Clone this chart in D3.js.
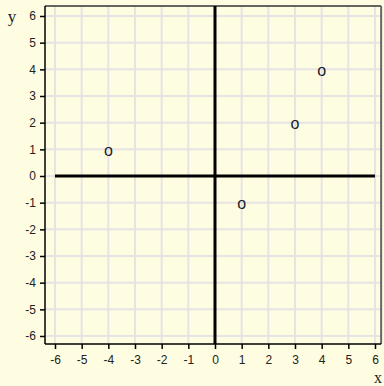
<!DOCTYPE html>
<html><head><meta charset="utf-8">
<script src="https://cdn.jsdelivr.net/npm/d3@7"></script>
<style>html,body{margin:0;padding:0;background:#fffde1;}svg{display:block;}</style>
</head><body>
<script>
const xTicks = [-6,-5,-4,-3,-2,-1,0,1,2,3,4,5,6];
const yTicks = [-6,-5,-4,-3,-2,-1,0,1,2,3,4,5,6];
const px = [-4, 1, 3, 4];
const py = [1, -1, 2, 4];
const marker = "o";

(function () {
const W = 384, H = 386;
const svg = d3.select("body").append("svg").attr("width", W).attr("height", H);
svg.append("rect").attr("width", W).attr("height", H).attr("fill", "#fffde1");

const x = d3.scaleLinear().domain([-6, 6]).range([55, 375]);
const y = d3.scaleLinear().domain([-6, 6]).range([336, 16]);
const pL = x(-6.375), pR = x(6.23), pT = y(6.375), pB = y(-6.3);
const fmt = d => String(d);

// grid
svg.append("g").selectAll("line").data(xTicks).join("line")
  .attr("x1", d => x(d)).attr("x2", d => x(d)).attr("y1", pT).attr("y2", pB)
  .attr("stroke", "#e4e4e4").attr("stroke-width", 2);
svg.append("g").selectAll("line").data(yTicks).join("line")
  .attr("y1", d => y(d)).attr("y2", d => y(d)).attr("x1", pL).attr("x2", pR)
  .attr("stroke", "#e4e4e4").attr("stroke-width", 2);

// box top/right
svg.append("line").attr("x1", pL).attr("x2", pR).attr("y1", pT).attr("y2", pT)
  .attr("stroke", "#333").attr("stroke-width", 1.5);
svg.append("line").attr("x1", pR).attr("x2", pR).attr("y1", pT).attr("y2", pB)
  .attr("stroke", "#666").attr("stroke-width", 2);

// axes
const ax = svg.append("g").attr("transform", `translate(0,${pB})`)
  .call(d3.axisBottom(x).tickValues(xTicks).tickSize(5).tickPadding(6).tickFormat(fmt));
ax.select(".domain").attr("d", `M${pL},0H${pR}`).attr("stroke", "#000").attr("stroke-width", 1.5);
const ay = svg.append("g").attr("transform", `translate(${pL},0)`)
  .call(d3.axisLeft(y).tickValues(yTicks).tickSize(5).tickPadding(4).tickFormat(fmt));
ay.select(".domain").attr("d", `M0,${pT}V${pB}`).attr("stroke", "#000").attr("stroke-width", 1.5);
svg.selectAll(".tick text").attr("font-family", "Liberation Sans, Arial, sans-serif").attr("font-size", 12).attr("fill", "#222");
svg.selectAll(".tick line").attr("stroke", "#000").attr("stroke-width", 1.5);

// zero lines
svg.append("line").attr("x1", x(-6)).attr("x2", x(6)).attr("y1", y(0)).attr("y2", y(0))
  .attr("stroke", "#000").attr("stroke-width", 3);
svg.append("line").attr("x1", x(0)).attr("x2", x(0)).attr("y1", pT).attr("y2", pB)
  .attr("stroke", "#000").attr("stroke-width", 3);

// points
svg.append("g").selectAll("text").data(px.map((d, i) => [d, py[i]])).join("text")
  .attr("x", d => x(d[0])).attr("y", d => y(d[1]))
  .attr("text-anchor", "middle").attr("dy", "0.42em")
  .attr("font-family", "Liberation Sans, Arial, sans-serif").attr("font-size", 16).attr("fill", "#1a1a2a")
  .text(marker);

// axis labels
svg.append("text").attr("x", 12).attr("y", 22).attr("text-anchor", "middle")
  .attr("font-family", "Liberation Serif, Times New Roman, serif").attr("font-size", 17).attr("fill", "#222").text("y");
svg.append("text").attr("x", 378).attr("y", 383).attr("text-anchor", "middle")
  .attr("font-family", "Liberation Serif, Times New Roman, serif").attr("font-size", 16).attr("fill", "#222").text("x");
})();
</script>
</body></html>
